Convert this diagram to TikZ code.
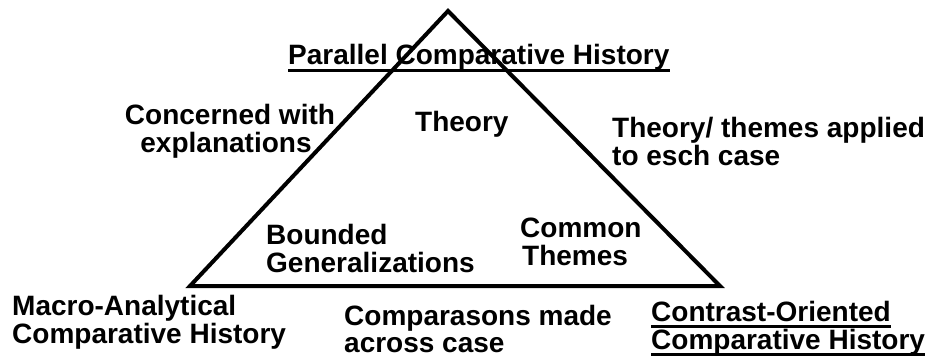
\documentclass[tikz,border=0pt]{standalone}
\usepackage{fontspec}
\setmainfont{Liberation Sans}
\begin{document}
\begin{tikzpicture}[x=1pt,y=-1pt,
  lbl/.style={font=\fontsize{28}{26}\selectfont\bfseries, inner sep=0pt, anchor=base west},
  clbl/.style={lbl, anchor=base},
  tri/.style={draw=black, line width=4pt, line join=miter},
  uline/.style={line width=3pt}]
\useasboundingbox (0,0) rectangle (942,357);
\fill[white] (0,0) rectangle (942,357);
\coordinate (A) at (448,11);
\coordinate (L) at (190,286);
\coordinate (R) at (720,286);
\draw[tri] (A) -- (L) -- (R) -- cycle;
% top title
\node[lbl] (pch) at (288,64) {Parallel Comparative History};
\draw[uline] ([yshift=-6pt]pch.base west) -- ([yshift=-6pt]pch.base east);
% left
\node[clbl] (cwe1) at (230,124) {Concerned with};
\node[clbl] (cwe2) at (226,152) {explanations};
% centre
\node[lbl] (th) at (415,131) {Theory};
% right
\node[lbl] (tta1) at (612,137) {Theory/ themes applied};
\node[lbl] (tta2) at (612,165) {to esch case};
% inside bottom
\node[lbl] (bg1) at (266,244) {Bounded};
\node[lbl] (bg2) at (266,272) {Generalizations};
\node[lbl] (ct1) at (520,237) {Common};
\node[lbl] (ct2) at (522,265) {Themes};
% below
\node[lbl] (mac1) at (12,315) {Macro-Analytical};
\node[lbl] (mac2) at (12,343) {Comparative History};
\node[lbl] (cmp1) at (344,325) {Comparasons made};
\node[lbl] (cmp2) at (344,352) {across case};
\node[lbl] (coc1) at (651,321) {Contrast-Oriented};
\draw[uline] ([yshift=-5pt]coc1.base west) -- ([yshift=-5pt]coc1.base east);
\node[lbl] (coc2) at (651,349) {Comparative History};
\draw[uline] ([yshift=-5pt]coc2.base west) -- ([yshift=-5pt]coc2.base east);
\end{tikzpicture}
\end{document}
